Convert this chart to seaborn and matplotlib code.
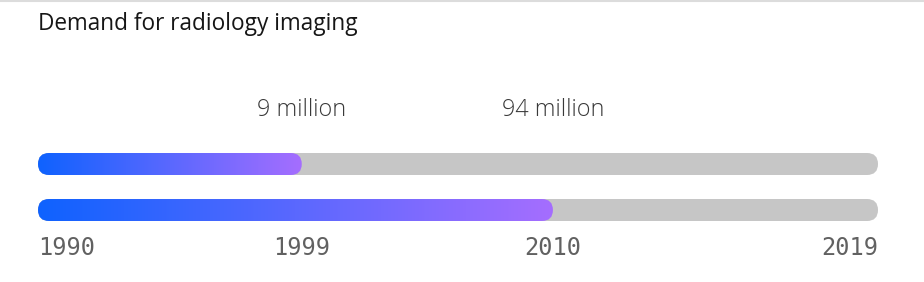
import numpy as np
import pandas as pd
import matplotlib
matplotlib.use("Agg")
import matplotlib.pyplot as plt
import seaborn as sns
from matplotlib.patches import FancyBboxPatch
from matplotlib.colors import LinearSegmentedColormap
from matplotlib.lines import Line2D

# ---- data ----
title = "Demand for radiology imaging"
periods = ["1990-1999", "1990-2010"]
progress = [0.314, 0.613]            # share of the 1990-2019 track filled
value_labels = ["9 million", "94 million"]
tick_years = ["1990", "1999", "2010", "2019"]

W, H, DPI = 924, 282, 100
sns.set_theme(style="white")
plt.rcParams["font.family"] = ["Open Sans", "DejaVu Sans"]

fig = plt.figure(figsize=(W / DPI, H / DPI), dpi=DPI)
fig.patch.set_facecolor("white")

bar_w = 22 / 46
# axes in pixel coordinates: bars span x 38..878, y 153..221
ax_left, ax_right = 38, 878
ax_top, ax_bot = 153, 221
ax = fig.add_axes([ax_left / W, 1 - ax_bot / H, (ax_right - ax_left) / W, (ax_bot - ax_top) / H])

df_track = pd.DataFrame({"period": periods, "value": [1.0] * len(periods)})
df_prog = pd.DataFrame({"period": periods, "value": progress})

sns.barplot(data=df_track, x="value", y="period", color="#c6c6c6", width=bar_w, ax=ax, saturation=1)
n_track = len(ax.patches)
sns.barplot(data=df_prog, x="value", y="period", color="#0f62fe", width=bar_w, ax=ax, saturation=1)

ax.set_xlim(0, 1)
ax.set_ylim(1 + bar_w / 2, -bar_w / 2)
for s in ax.spines.values():
    s.set_visible(False)
ax.set_xlabel("")
ax.set_ylabel("")
ax.set_yticks([])
ax.set_facecolor("none")

# pixel scale for round caps
px_x = (ax_right - ax_left) / 1.0
px_y = (ax_bot - ax_top) / (1 + bar_w)
aspect = px_x / px_y

cmap = LinearSegmentedColormap.from_list("g", ["#0f62fe", "#a56eff"])
grad = np.linspace(0, 1, 256).reshape(1, -1)

rects = list(ax.patches)
for i, r in enumerate(rects):
    x, y, w, h = r.get_x(), r.get_y(), r.get_width(), r.get_height()
    fc = r.get_facecolor()
    r.remove()
    rad = (h * px_y / 2) / px_x
    p = FancyBboxPatch((x, y), w, h,
                       boxstyle=f"round,pad=0,rounding_size={rad}",
                       mutation_aspect=aspect,
                       facecolor=fc, edgecolor="none", zorder=2 if i < n_track else 3)
    ax.add_patch(p)
    if i >= n_track:
        p.set_facecolor("none")
        im = ax.imshow(grad, cmap=cmap, aspect="auto",
                       extent=(x, x + w, y + h, y), zorder=3, interpolation="bicubic")
        im.set_clip_path(p)

ax.set_xlim(0, 1)
ax.set_ylim(1 + bar_w / 2, -bar_w / 2)

# x ticks: years at bar ends
ticks = [0.0] + progress + [1.0]
ax.set_xticks(ticks)
ax.set_xticklabels(tick_years, family=["DejaVu Sans Mono"], fontsize=17, color="#616161")
ax.tick_params(axis="x", length=0, pad=11)
labs = ax.get_xticklabels()
labs[0].set_ha("left")
labs[-1].set_ha("right")

# value labels above the top bar
for p, lab in zip(progress, value_labels):
    ax.annotate(lab, xy=(p, -bar_w / 2), xycoords="data",
                xytext=(0, (153 - 116) * 72 / DPI), textcoords="offset points",
                ha="center", va="baseline", fontsize=16.8, color="#393939",
                fontweight="light")

# title
fig.text(38 / W, 1 - 30 / H, title, ha="left", va="baseline",
         fontsize=16.3, color="#161616")

# top border
fig.add_artist(Line2D([0, 1], [1 - 1 / H, 1 - 1 / H], color="#dcdcdc", lw=1.5,
                      transform=fig.transFigure))

fig.savefig("out.png", dpi=DPI, facecolor="white")
